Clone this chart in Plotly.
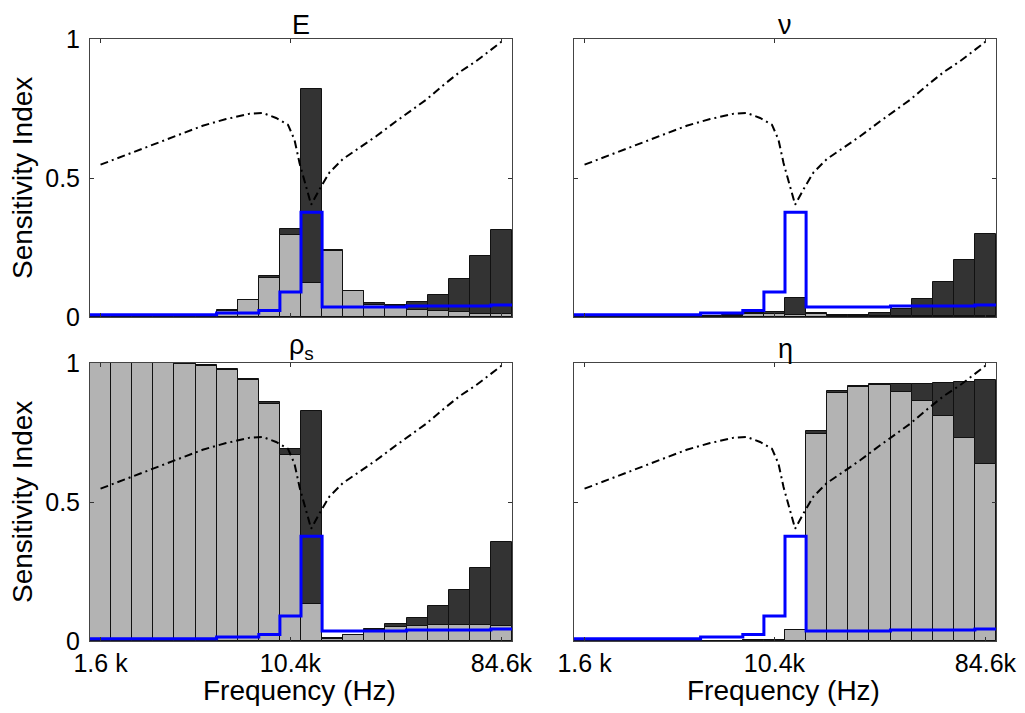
import plotly.graph_objects as go

# ---------------- data ----------------
bins = list(range(20))                       # frequency bins (log-spaced 1.6 kHz .. 84.6 kHz)
tick_bins = [0, 9, 19]
tick_text = ["1.6 k", "10.4k", "84.6k"]
y_ticks = [0, 0.5, 1]
y_tick_text = ["0", "0.5", "1"]

E_total = [0.003, 0.003, 0.003, 0.003, 0.003, 0.004, 0.026, 0.062, 0.146, 0.317, 0.820, 0.241,
           0.095, 0.050, 0.043, 0.053, 0.080, 0.137, 0.218, 0.312]
E_first = [0.002, 0.002, 0.002, 0.002, 0.002, 0.003, 0.022, 0.060, 0.140, 0.296, 0.122, 0.236,
           0.092, 0.043, 0.038, 0.024, 0.020, 0.017, 0.011, 0.011]

nu_total = [0.001, 0.001, 0.001, 0.001, 0.001, 0.002, 0.005, 0.006, 0.014, 0.017, 0.068, 0.013,
            0.006, 0.006, 0.013, 0.029, 0.065, 0.125, 0.206, 0.300]
nu_first = [0.001, 0.001, 0.001, 0.001, 0.001, 0.001, 0.003, 0.004, 0.012, 0.011, 0.008, 0.012,
            0.002, 0.002, 0.003, 0.003, 0.003, 0.003, 0.003, 0.003]

rho_total = [1.000, 1.000, 1.000, 1.000, 0.998, 0.992, 0.978, 0.942, 0.858, 0.692, 0.826, 0.011,
             0.023, 0.044, 0.061, 0.084, 0.126, 0.182, 0.261, 0.356]
rho_first = [1.000, 1.000, 1.000, 0.999, 0.995, 0.988, 0.974, 0.940, 0.854, 0.670, 0.132, 0.008,
             0.020, 0.041, 0.050, 0.054, 0.059, 0.059, 0.059, 0.053]

eta_total = [0.000, 0.000, 0.000, 0.000, 0.000, 0.000, 0.001, 0.001, 0.002, 0.003, 0.041, 0.754,
             0.898, 0.918, 0.924, 0.923, 0.923, 0.928, 0.933, 0.938]
eta_first = [0.000, 0.000, 0.000, 0.000, 0.000, 0.000, 0.001, 0.001, 0.002, 0.002, 0.038, 0.746,
             0.893, 0.914, 0.920, 0.896, 0.862, 0.808, 0.730, 0.635]

# blue step curve (same in every panel)
blue_step = [0.008, 0.008, 0.008, 0.008, 0.008, 0.008, 0.014, 0.014, 0.023, 0.090, 0.377, 0.036,
             0.036, 0.036, 0.036, 0.040, 0.040, 0.040, 0.040, 0.043]

# dash-dot curve (same in every panel), position in bin units
curve_pos = [0.0, 0.89, 2.0, 2.87, 4.84, 5.95, 7.06, 7.69, 8.32, 8.88, 9.19, 9.43, 9.75, 9.98,
             10.38, 10.85, 11.48, 12.27, 13.06, 14.01, 14.65, 15.44, 16.23, 17.02, 17.81, 18.6, 19.0]
curve_val = [0.548, 0.574, 0.606, 0.632, 0.688, 0.712, 0.731, 0.734, 0.716, 0.692, 0.638, 0.554,
             0.470, 0.404, 0.460, 0.520, 0.568, 0.608, 0.650, 0.704, 0.740, 0.782, 0.833, 0.881,
             0.921, 0.968, 0.990]

panel_titles = ["E", "ν", "ρ<sub>s</sub>", "η"]
panel_data = [(E_total, E_first), (nu_total, nu_first), (rho_total, rho_first), (eta_total, eta_first)]

# ---------------- layout geometry ----------------
W, H = 1025, 713
OFF = 8   # page body margin offset
FONT = "Liberation Sans, Arial, Helvetica, sans-serif"
cols_px = [(90, 512), (574, 996)]
rows_px = [(39, 317), (363, 641)]


def px_x(p):
    return (p - OFF) / W


def px_y(p):
    return 1 - (p - OFF) / H


fig = go.Figure()
layout = dict(
    template="none",
    width=W, height=H, margin=dict(l=0, r=0, t=0, b=0, autoexpand=False),
    paper_bgcolor="white", plot_bgcolor="white",
    barmode="overlay", showlegend=False, bargap=0,
    font=dict(family=FONT, size=25, color="black"),
)
annotations = []

for i in range(4):
    r, c = divmod(i, 2)
    n = i + 1
    xa = "x" if n == 1 else f"x{n}"
    ya = "y" if n == 1 else f"y{n}"
    total, first = panel_data[i]

    fig.add_trace(go.Bar(x=bins, y=total, width=1, xaxis=xa, yaxis=ya,
                         marker=dict(color="#333333", line=dict(color="#111111", width=1))))
    fig.add_trace(go.Bar(x=bins, y=first, width=1, xaxis=xa, yaxis=ya,
                         marker=dict(color="#b3b3b3", line=dict(color="#111111", width=1))))
    fig.add_trace(go.Scatter(x=curve_pos, y=curve_val, mode="lines", xaxis=xa, yaxis=ya,
                             line=dict(color="black", width=2, dash="8px,4px,2px,4px")))
    step_x = [b - 0.5 for b in bins] + [bins[-1] + 0.5]
    step_y = blue_step + [blue_step[-1]]
    fig.add_trace(go.Scatter(x=step_x, y=step_y, mode="lines", line_shape="hv", xaxis=xa, yaxis=ya,
                             line=dict(color="#0000ff", width=3)))

    x0, x1 = cols_px[c]
    y0, y1 = rows_px[r]
    layout["xaxis" if n == 1 else f"xaxis{n}"] = dict(
        domain=[px_x(x0), px_x(x1)], anchor=ya, range=[-0.5, 19.5], automargin=False,
        tickvals=tick_bins, ticktext=tick_text, showticklabels=(r == 1),
        ticks="inside", ticklen=4, tickcolor="#333333", mirror="ticks",
        showline=True, linecolor="#444444", linewidth=1,
        showgrid=False, zeroline=False, fixedrange=True,
        tickfont=dict(family=FONT, size=25, color="black"),
    )
    layout["yaxis" if n == 1 else f"yaxis{n}"] = dict(
        domain=[px_y(y1), px_y(y0)], anchor=xa, range=[0, 1], automargin=False,
        tickvals=y_ticks, ticktext=y_tick_text, showticklabels=(c == 0),
        ticks="inside", ticklen=4, tickcolor="#333333", mirror="ticks",
        showline=True, linecolor="#444444", linewidth=1,
        showgrid=False, zeroline=False, fixedrange=True, ticklabelstandoff=4,
        tickfont=dict(family=FONT, size=25, color="black"),
    )

    # panel title
    annotations.append(dict(text=panel_titles[i], x=px_x((x0 + x1) / 2), y=px_y(y0 + 2),
                            xref="paper", yref="paper", xanchor="center", yanchor="bottom",
                            showarrow=False, borderpad=0,
                            font=dict(family=FONT, size=27, color="black")))
    if c == 0:
        annotations.append(dict(text="Sensitivity Index", x=px_x(22), y=px_y((y0 + y1) / 2),
                                xref="paper", yref="paper", xanchor="center", yanchor="middle",
                                textangle=-90, showarrow=False,
                                font=dict(family=FONT, size=28, color="black")))
    if r == 1:
        annotations.append(dict(text="Frequency (Hz)", x=px_x((x0 + x1) / 2 - 2), y=px_y(690),
                                xref="paper", yref="paper", xanchor="center", yanchor="middle",
                                showarrow=False, font=dict(family=FONT, size=28, color="black")))

layout["annotations"] = annotations
fig.update_layout(**layout)
fig.write_html("out.html")
